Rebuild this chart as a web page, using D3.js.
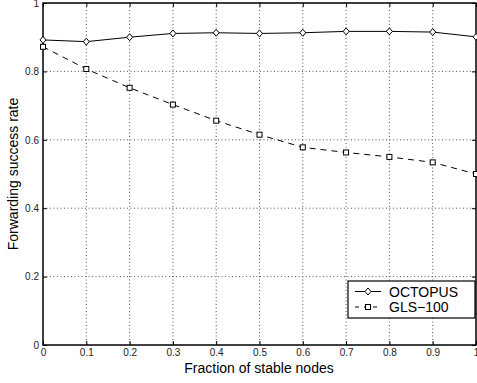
<!DOCTYPE html>
<html><head><meta charset="utf-8">
<script src="https://cdn.jsdelivr.net/npm/d3@7"></script>
<style>body{margin:0;background:#fff}svg{display:block;font-family:"Liberation Sans",Arial,Helvetica,sans-serif}</style>
</head><body>
<svg id="c" width="477" height="383"></svg>
<script>
const fractions = [0,0.1,0.2,0.3,0.4,0.5,0.6,0.7,0.8,0.9,1.0];
const octopus = [0.892,0.887,0.900,0.911,0.913,0.911,0.913,0.917,0.917,0.915,0.901];
const gls100 = [0.872,0.807,0.752,0.703,0.656,0.615,0.578,0.563,0.550,0.534,0.500];
const xTicks = [0,0.1,0.2,0.3,0.4,0.5,0.6,0.7,0.8,0.9,1];
const yTicks = [0,0.2,0.4,0.6,0.8,1];
const seriesNames = ["OCTOPUS","GLS\u2212100"];

const svg = d3.select("#c");
const L=43, R=476, T=3, B=345;
const x = d3.scaleLinear().domain([0,1]).range([L,R]);
const y = d3.scaleLinear().domain([0,1]).range([B,T]);

// grid
const grid = svg.append("g");
grid.selectAll(".gx").data(xTicks.slice(1,-1)).enter().append("line")
  .attr("x1",d=>x(d)).attr("x2",d=>x(d)).attr("y1",T).attr("y2",B)
  .attr("stroke","#555").attr("stroke-width",1).attr("stroke-dasharray","1,2.5");
grid.selectAll(".gy").data(yTicks.slice(1,-1)).enter().append("line")
  .attr("y1",d=>y(d)).attr("y2",d=>y(d)).attr("x1",L).attr("x2",R)
  .attr("stroke","#555").attr("stroke-width",1).attr("stroke-dasharray","1,2.5");

// axes
const fmt = d => d===0?"0":(d===1?"1":d3.format(".1f")(d));
const ax = svg.append("g").attr("transform",`translate(0,${B})`)
  .call(d3.axisBottom(x).tickValues(xTicks).tickFormat(fmt).tickSizeInner(-4).tickSizeOuter(0).tickPadding(4));
const ay = svg.append("g").attr("transform",`translate(${L},0)`)
  .call(d3.axisLeft(y).tickValues(yTicks).tickFormat(fmt).tickSizeInner(-4).tickSizeOuter(0).tickPadding(4));
const axTop = svg.append("g").attr("transform",`translate(0,${T})`)
  .call(d3.axisTop(x).tickValues(xTicks).tickFormat("").tickSizeInner(-4).tickSizeOuter(0));
const ayR = svg.append("g").attr("transform",`translate(${R},0)`)
  .call(d3.axisRight(y).tickValues(yTicks).tickFormat("").tickSizeInner(-4).tickSizeOuter(0));
[ax,ay,axTop,ayR].forEach(g=>{
  g.select(".domain").remove();
  g.selectAll("line").attr("stroke","#000");
  g.selectAll("text").attr("font-size",10).attr("fill","#222").attr("font-family","Liberation Sans, Arial, sans-serif");
});
svg.append("rect").attr("x",L).attr("y",T).attr("width",R-L).attr("height",B-T)
  .attr("fill","none").attr("stroke","#000").attr("stroke-width",1.5);

// lines
const line = d3.line().x((d,i)=>x(fractions[i])).y(d=>y(d));
svg.append("path").datum(octopus).attr("d",line).attr("fill","none").attr("stroke","#000").attr("stroke-width",1);
svg.append("path").datum(gls100).attr("d",line).attr("fill","none").attr("stroke","#000").attr("stroke-width",1).attr("stroke-dasharray","6,5");

const diamond = (cx,cy)=>`M${cx},${cy-3.5}L${cx+3},${cy}L${cx},${cy+3.5}L${cx-3},${cy}Z`;
svg.append("g").selectAll("path").data(octopus).enter().append("path")
  .attr("d",(d,i)=>diamond(x(fractions[i]),y(d))).attr("fill","#fff").attr("stroke","#000").attr("stroke-width",1);
svg.append("g").selectAll("rect").data(gls100).enter().append("rect")
  .attr("x",(d,i)=>x(fractions[i])-2.5).attr("y",d=>y(d)-2.5).attr("width",5).attr("height",5)
  .attr("fill","#fff").attr("stroke","#000").attr("stroke-width",1);

// labels
svg.append("text").attr("x",259).attr("y",373).attr("text-anchor","middle").attr("font-size",14).text("Fraction of stable nodes");
svg.append("text").attr("transform","translate(18,174) rotate(-90)").attr("text-anchor","middle").attr("font-size",14).text("Forwarding success rate");

// legend
const lg = svg.append("g");
lg.append("rect").attr("x",348).attr("y",281).attr("width",127).attr("height",37).attr("fill","#fff").attr("stroke","#000").attr("stroke-width",1.2);
const ly = [291.5, 307];
lg.append("line").attr("x1",355).attr("x2",381).attr("y1",ly[0]).attr("y2",ly[0]).attr("stroke","#000");
lg.append("path").attr("d",diamond(368,ly[0])).attr("fill","#fff").attr("stroke","#000");
lg.append("line").attr("x1",355).attr("x2",381).attr("y1",ly[1]).attr("y2",ly[1]).attr("stroke","#000").attr("stroke-dasharray","4,5");
lg.append("rect").attr("x",365.5).attr("y",ly[1]-2.5).attr("width",5).attr("height",5).attr("fill","#fff").attr("stroke","#000");
lg.selectAll("text").data(seriesNames).enter().append("text")
  .attr("x",389).attr("y",(d,i)=>ly[i]+5).attr("font-size",14).text(d=>d);
</script>
</body></html>
